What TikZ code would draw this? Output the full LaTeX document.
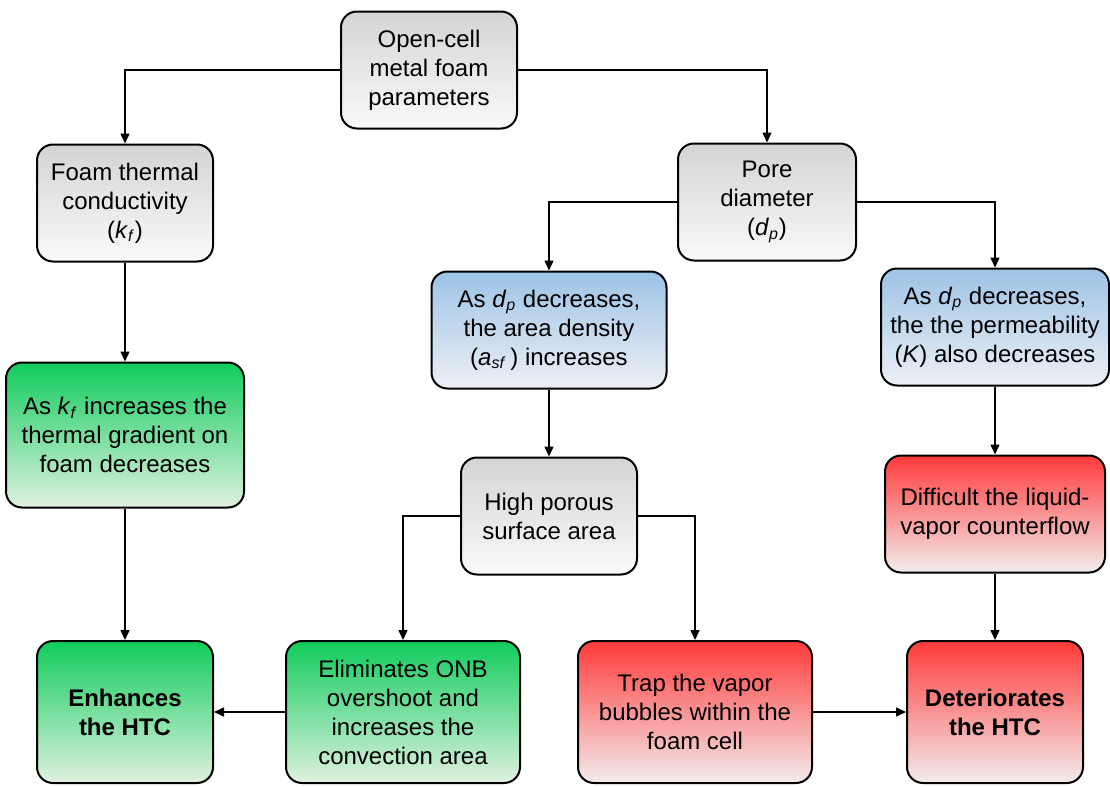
\documentclass[tikz,border=0pt]{standalone}
\usepackage{fontspec}
\setmainfont{Liberation Sans}
\usepackage{tikz}
\usetikzlibrary{arrows.meta}

\definecolor{greytop}{RGB}{212,212,212}
\definecolor{greybot}{RGB}{250,250,250}
\definecolor{bluetop}{RGB}{157,195,230}
\definecolor{bluebot}{RGB}{237,240,245}
\definecolor{greentop}{RGB}{16,204,92}
\definecolor{greenbot}{RGB}{224,241,224}
\definecolor{redtop}{RGB}{255,58,58}
\definecolor{redbot}{RGB}{243,237,237}

\begin{document}
\begin{tikzpicture}[x=0.5pt,y=-0.5pt,->,>={Triangle[length=5pt,width=4.5pt]},line width=0.75pt,
  box/.style={rectangle,rounded corners=8pt,draw,line width=1pt,align=center,inner sep=3pt,
    font=\fontsize{12}{14.5}\selectfont,minimum width=88pt,minimum height=58.5pt},
  grey node/.style={box,top color=greytop,bottom color=greybot},
  blue node/.style={box,top color=bluetop,bottom color=bluebot},
  green node/.style={box,top color=greentop,bottom color=greenbot},
  red node/.style={box,top color=redtop,bottom color=redbot},
  hv/.style={to path={-| (\tikztotarget)}}]

  \useasboundingbox (0,0) rectangle (1110,787);

  \node[grey node] (params) at (429,70) {Open-cell\\metal foam\\parameters};
  \node[grey node] (foam) at (125,203) {Foam thermal\\conductivity\\(\textit{k}\textsubscript{\textit{f}})};
  \node[grey node,minimum width=89pt] (pore) at (767,202) {Pore\\diameter\\(\textit{d}\textsubscript{\textit{p}})};

  \node[blue node,minimum width=117.5pt] (areadens) at (549,330)
    {As \textit{d}\textsubscript{\textit{p}} decreases,\\the area density\\(\textit{a}\textsubscript{\textit{sf}}\,) increases};
  \node[blue node,minimum width=114pt] (perm) at (995,327)
    {As \textit{d}\textsubscript{\textit{p}} decreases,\\the the permeability\\(\textit{K}) also decreases};

  \node[green node,minimum width=119pt,minimum height=72.5pt] (gradient) at (125,435)
    {As \textit{k}\textsubscript{\textit{f}} increases the\\thermal gradient on\\foam decreases};
  \node[grey node] (surface) at (549,516) {High porous\\surface area};
  \node[red node,minimum width=110pt] (counterflow) at (995,514) {Difficult the liquid-\\vapor counterflow};

  \node[green node,minimum height=71pt] (enhance) at (125,712) {\textbf{Enhances}\\\textbf{the HTC}};
  \node[green node,minimum width=117pt,minimum height=71pt] (onb) at (403,712)
    {Eliminates ONB\\overshoot and\\increases the\\convection area};
  \node[red node,minimum width=117pt,minimum height=71pt] (trap) at (695,712)
    {Trap the vapor\\bubbles within the\\foam cell};
  \node[red node,minimum height=71pt] (deteriorate) at (995,712) {\textbf{Deteriorates}\\\textbf{the HTC}};

  \path
    (params) edge[hv] (foam)
    (params) edge[hv] (pore)
    (pore) edge[hv] (areadens)
    (pore) edge[hv] (perm)
    (foam) edge (gradient)
    (gradient) edge (enhance)
    (areadens) edge (surface)
    (surface) edge[hv] (onb)
    (surface) edge[hv] (trap)
    (perm) edge (counterflow)
    (counterflow) edge (deteriorate)
    (onb) edge (enhance)
    (trap) edge (deteriorate)
    ;

\end{tikzpicture}
\end{document}
